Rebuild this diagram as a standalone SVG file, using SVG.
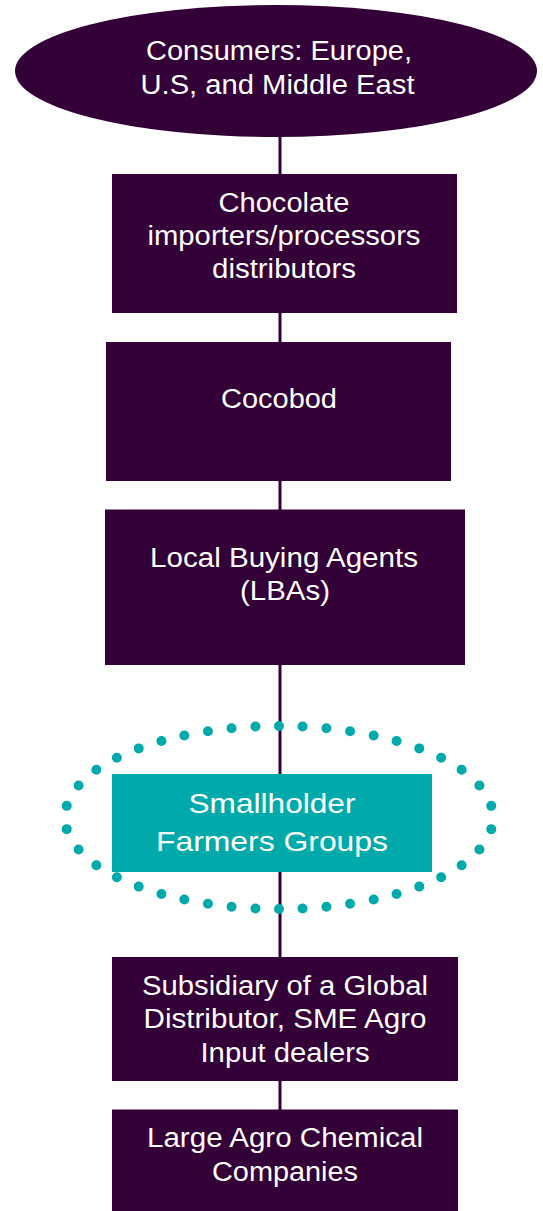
<svg xmlns="http://www.w3.org/2000/svg" width="543" height="1211" viewBox="0 0 543 1211">
<style>
.dk{fill:#330038;}
.tl{fill:#00AAAA;}
.t{font-family:"Liberation Sans",Arial,sans-serif;font-size:27px;fill:#ffffff;text-anchor:middle;}
.t2{font-family:"Liberation Sans",Arial,sans-serif;font-size:28.5px;fill:#ffffff;text-anchor:middle;}
.conn{stroke:#330038;stroke-width:3;fill:none;}
</style>
<rect width="543" height="1211" fill="#ffffff"/>
<g id="connectors">
<line class="conn" x1="280" y1="130" x2="280" y2="1115"/>
</g>
<g id="consumers">
<ellipse class="dk" cx="276" cy="71" rx="261" ry="66"/>
<text class="t" x="279" y="59.5" textLength="266" lengthAdjust="spacingAndGlyphs">Consumers: Europe,</text>
<text class="t" x="277.5" y="93.5" textLength="274" lengthAdjust="spacingAndGlyphs">U.S, and Middle East</text>
</g>
<g id="chocolate">
<rect class="dk" x="112" y="174" width="345" height="139"/>
<text class="t" x="284" y="211.5" textLength="131" lengthAdjust="spacingAndGlyphs">Chocolate</text>
<text class="t" x="284" y="244.5" textLength="273" lengthAdjust="spacingAndGlyphs">importers/processors</text>
<text class="t" x="284" y="278" textLength="144" lengthAdjust="spacingAndGlyphs">distributors</text>
</g>
<g id="cocobod">
<rect class="dk" x="106" y="342" width="345" height="139"/>
<text class="t" x="279" y="408" textLength="116" lengthAdjust="spacingAndGlyphs">Cocobod</text>
</g>
<g id="lbas">
<rect class="dk" x="105" y="509.5" width="360" height="155.5"/>
<text class="t" x="284" y="567" textLength="268" lengthAdjust="spacingAndGlyphs">Local Buying Agents</text>
<text class="t" x="285" y="600" textLength="90" lengthAdjust="spacingAndGlyphs">(LBAs)</text>
</g>
<g id="smallholder">
<ellipse cx="279" cy="817.5" rx="214" ry="91.5" fill="none" stroke="#00AAAA" stroke-width="10" stroke-linecap="round" pathLength="42" stroke-dasharray="0 1" stroke-dashoffset="0.5"/>
<rect class="tl" x="112" y="774" width="320" height="98"/>
<text class="t2" x="272" y="813" textLength="167" lengthAdjust="spacingAndGlyphs">Smallholder</text>
<text class="t2" x="272" y="850.5" textLength="232" lengthAdjust="spacingAndGlyphs">Farmers Groups</text>
</g>
<g id="subsidiary">
<rect class="dk" x="112" y="957" width="346" height="124"/>
<text class="t" x="285" y="994.5" textLength="286" lengthAdjust="spacingAndGlyphs">Subsidiary of a Global</text>
<text class="t" x="285" y="1028" textLength="283" lengthAdjust="spacingAndGlyphs">Distributor, SME Agro</text>
<text class="t" x="285" y="1061.5" textLength="169" lengthAdjust="spacingAndGlyphs">Input dealers</text>
</g>
<g id="large-agro">
<rect class="dk" x="112" y="1109.5" width="346" height="101.5"/>
<text class="t" x="285" y="1147" textLength="276" lengthAdjust="spacingAndGlyphs">Large Agro Chemical</text>
<text class="t" x="285" y="1180.5" textLength="146" lengthAdjust="spacingAndGlyphs">Companies</text>
</g>
</svg>
